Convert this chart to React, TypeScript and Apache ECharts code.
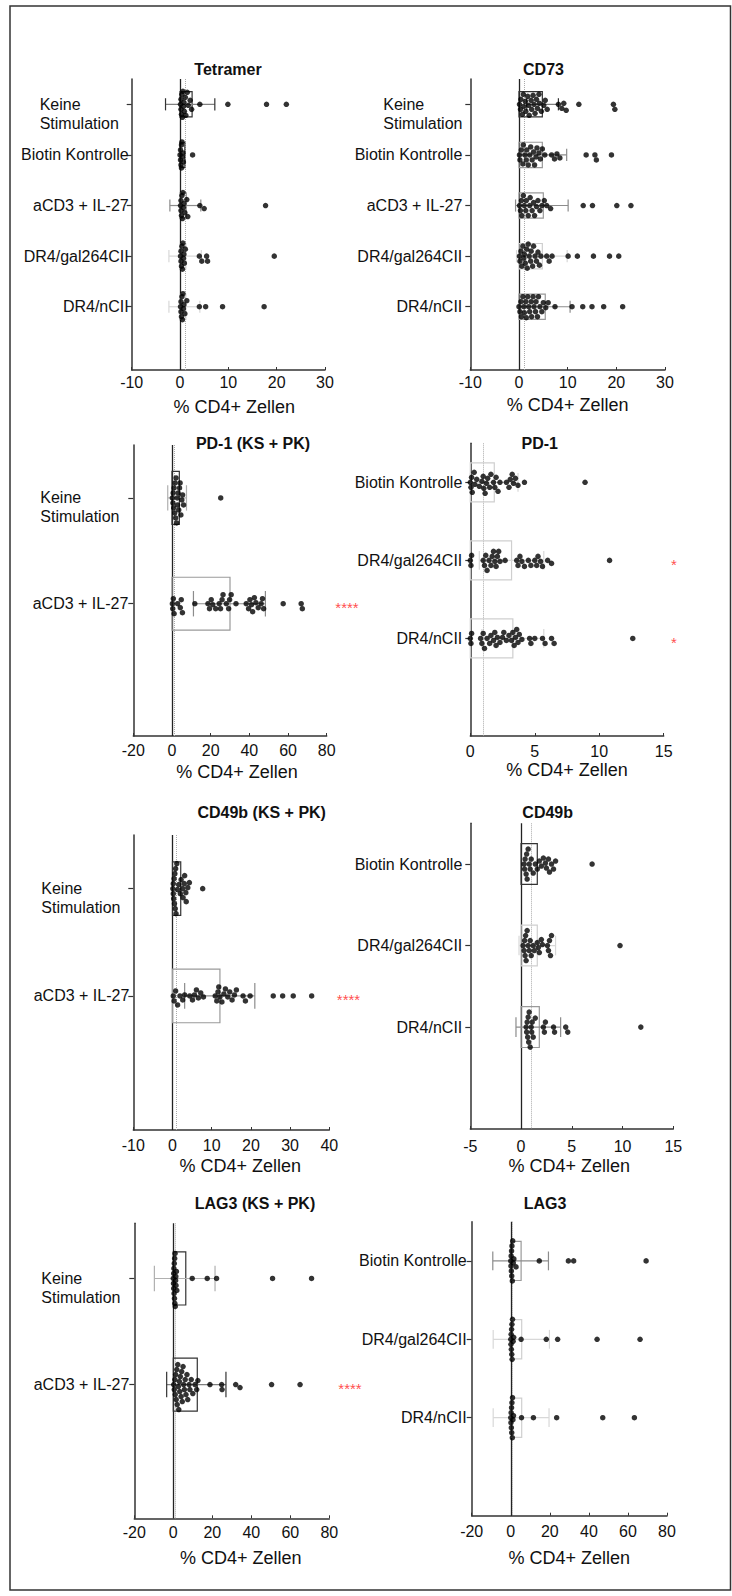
import React, { useEffect, useRef } from "react";
import * as echarts from "echarts";

const FONT = "'Liberation Sans', Arial, Helvetica, sans-serif";
const AXIS_NAME = "% CD4+ Zellen";

// ---------- Panel 1: Tetramer ----------
const tetTitle = "Tetramer";
const tetCats = ["Keine Stimulation", "Biotin Kontrolle", "aCD3 + IL-27", "DR4/gal264CII", "DR4/nCII"];
const tetMean = [2.5, 1.0, 1.3, 1.2, 1.2];
const tetLo = [-3.0, 1.0, -2.1, -2.3, -2.3];
const tetHi = [7.2, 1.0, 4.3, 4.4, 4.1];
const tetKeine = [0.1, 0.2, 0.2, 0.3, 0.4, 0.5, 0.6, 0.7, 0.8, 0.9, 1.1, 1.2, 1.5, 1.7, 2.1, 2.4, 4.1, 9.9, 17.9, 22.0];
const tetBiotin = [0.0, 0.1, 0.1, 0.2, 0.3, 0.3, 0.4, 0.5, 0.6, 0.7, 2.6];
const tetAcd3 = [0.1, 0.2, 0.2, 0.3, 0.4, 0.5, 0.6, 0.7, 0.8, 1.0, 1.4, 1.6, 4.1, 5.0, 17.7];
const tetGal = [0.1, 0.2, 0.2, 0.3, 0.4, 0.5, 0.6, 0.7, 0.8, 0.9, 1.1, 4.0, 4.5, 5.5, 5.7, 19.5];
const tetNc = [0.1, 0.2, 0.2, 0.3, 0.4, 0.5, 0.6, 0.7, 0.8, 1.0, 1.4, 4.0, 5.3, 8.8, 17.4];
const tetAxis = [-10, 30, 10];
const tetSig = ["", "", "", "", ""];

// ---------- Panel 2: CD73 ----------
const cdTitle = "CD73";
const cdCats = ["Keine Stimulation", "Biotin Kontrolle", "aCD3 + IL-27", "DR4/gal264CII", "DR4/nCII"];
const cdMean = [4.8, 4.8, 5.0, 4.8, 5.4];
const cdLo = [1.6, 0.0, -0.7, -0.5, 0.2];
const cdHi = [8.1, 9.8, 10.1, 9.9, 10.5];
const cdKeine = [0.1, 0.3, 0.4, 0.7, 0.9, 1.0, 1.3, 1.4, 1.8, 2.0, 2.1, 2.5, 2.6, 2.9, 3.1, 3.3, 3.6, 3.8, 4.1, 4.2, 4.6, 5.1, 5.4, 5.8, 8.1, 8.8, 9.2, 9.7, 12.3, 19.4, 19.7];
const cdBiotin = [0.1, 0.2, 0.5, 0.8, 0.9, 1.2, 1.5, 1.6, 1.9, 2.2, 2.4, 2.7, 3.0, 3.2, 3.5, 3.7, 4.1, 4.4, 4.8, 5.3, 6.7, 7.3, 7.8, 8.4, 13.8, 15.6, 15.9, 19.0];
const cdAcd3 = [0.1, 0.3, 0.5, 0.6, 0.9, 1.1, 1.4, 1.5, 1.9, 2.2, 2.3, 2.7, 3.0, 3.2, 3.6, 3.9, 4.3, 4.7, 5.2, 5.7, 6.5, 13.2, 15.1, 20.1, 23.0];
const cdGal = [0.1, 0.2, 0.4, 0.6, 0.8, 1.0, 1.1, 1.3, 1.6, 1.7, 1.9, 2.1, 2.4, 2.5, 2.8, 3.0, 3.3, 3.6, 3.9, 4.2, 4.5, 5.7, 6.2, 6.8, 10.1, 12.0, 15.3, 18.6, 20.5];
const cdNc = [0.0, 0.2, 0.4, 0.5, 0.8, 1.0, 1.1, 1.4, 1.5, 1.8, 2.0, 2.2, 2.5, 2.6, 2.9, 3.1, 3.4, 3.5, 3.8, 4.0, 4.3, 4.7, 5.0, 5.5, 6.0, 7.4, 10.9, 13.1, 15.0, 17.4, 21.3];
const cdAxis = [-10, 30, 10];
const cdSig = ["", "", "", "", ""];

// ---------- Panel 3: PD-1 (KS + PK) ----------
const pdksTitle = "PD-1 (KS + PK)";
const pdksCats = ["Keine Stimulation", "aCD3 + IL-27"];
const pdksMean = [3.8, 30.0];
const pdksLo = [-2.2, 11.1];
const pdksHi = [7.5, 48.3];
const pdksKeine = [0.2, 0.5, 0.6, 0.9, 1.1, 1.4, 1.6, 1.9, 2.1, 2.4, 2.7, 2.9, 3.2, 3.5, 3.9, 4.2, 4.6, 5.1, 5.5, 6.0, 25.2];
const pdksAcd3 = [0.2, 0.4, 0.7, 1.1, 2.9, 4.3, 4.8, 5.4, 11.8, 18.6, 19.4, 20.3, 21.1, 22.6, 24.4, 25.1, 25.9, 26.4, 28.1, 29.3, 29.8, 30.6, 33.1, 38.4, 39.6, 40.3, 41.1, 41.7, 42.6, 43.4, 44.6, 46.1, 46.8, 47.4, 57.5, 66.8, 67.4];
const pdksAxis = [-20, 80, 20];
const pdksSig = ["", "****"];
const pdksSigX = 90.5;

// ---------- Panel 4: PD-1 ----------
const pdTitle = "PD-1";
const pdCats = ["Biotin Kontrolle", "DR4/gal264CII", "DR4/nCII"];
const pdMean = [1.86, 3.2, 3.3];
const pdLo = [0.0, 0.7, 0.9];
const pdHi = [3.7, 5.7, 5.7];
const pdBiotin = [0.0, 0.05, 0.1, 0.15, 0.3, 0.35, 0.5, 0.7, 0.9, 1.0, 1.05, 1.15, 1.25, 1.35, 1.5, 1.6, 1.8, 1.9, 2.0, 2.15, 2.3, 2.8, 3.0, 3.1, 3.25, 3.35, 3.5, 3.7, 4.2, 8.9];
const pdGal = [0.0, 0.05, 0.1, 1.0, 1.1, 1.2, 1.3, 1.45, 1.6, 1.7, 1.8, 1.9, 2.0, 2.1, 2.2, 2.3, 2.7, 3.6, 3.7, 3.85, 4.0, 4.2, 4.5, 4.7, 5.0, 5.15, 5.25, 5.45, 5.6, 6.0, 6.3, 10.8];
const pdNc = [0.0, 0.05, 0.1, 0.8, 0.9, 1.0, 1.1, 1.3, 1.5, 1.6, 1.8, 1.9, 2.0, 2.1, 2.3, 2.5, 2.6, 2.8, 3.0, 3.2, 3.3, 3.4, 3.5, 3.6, 3.7, 3.8, 4.0, 4.6, 4.7, 5.0, 5.6, 5.8, 6.3, 6.5, 12.6];
const pdAxis = [0, 15, 5];
const pdSig = ["", "*", "*"];
const pdSigX = 15.8;

// ---------- Panel 5: CD49b (KS + PK) ----------
const cbksTitle = "CD49b (KS + PK)";
const cbksCats = ["Keine Stimulation", "aCD3 + IL-27"];
const cbksMean = [2.1, 12.1];
const cbksLo = [2.1, 3.1];
const cbksHi = [2.1, 21.0];
const cbksKeine = [0.1, 0.2, 0.2, 0.3, 0.4, 0.5, 0.6, 0.7, 0.8, 0.9, 1.1, 1.3, 1.6, 2.0, 2.2, 2.6, 2.7, 3.0, 3.1, 3.4, 3.5, 3.9, 4.3, 7.7];
const cbksAcd3 = [0.2, 0.4, 0.8, 1.3, 1.9, 2.6, 3.1, 4.4, 5.1, 5.6, 6.1, 6.6, 7.2, 7.9, 10.9, 11.3, 11.6, 11.8, 12.1, 12.6, 13.1, 13.5, 14.1, 14.6, 15.2, 15.8, 16.3, 18.0, 18.6, 19.8, 25.7, 28.1, 30.8, 35.5];
const cbksAxis = [-10, 40, 10];
const cbksSig = ["", "****"];
const cbksSigX = 44.9;

// ---------- Panel 6: CD49b ----------
const cbTitle = "CD49b";
const cbCats = ["Biotin Kontrolle", "DR4/gal264CII", "DR4/nCII"];
const cbMean = [1.6, 1.6, 1.8];
const cbLo = [1.6, -0.2, -0.5];
const cbHi = [1.6, 3.4, 3.9];
const cbBiotin = [0.3, 0.35, 0.4, 0.5, 0.55, 0.6, 0.7, 0.8, 0.9, 1.0, 1.2, 1.4, 1.6, 1.8, 2.0, 2.2, 2.4, 2.5, 2.7, 2.8, 3.0, 3.2, 3.4, 7.0];
const cbGal = [0.2, 0.3, 0.35, 0.4, 0.45, 0.5, 0.6, 0.7, 0.8, 0.9, 1.0, 1.2, 1.3, 1.6, 1.7, 1.8, 2.0, 2.1, 2.6, 2.7, 2.8, 2.9, 3.0, 9.75];
const cbNc = [0.5, 0.55, 0.6, 0.65, 0.7, 0.75, 0.8, 0.9, 1.0, 1.05, 1.1, 1.2, 1.4, 2.2, 2.3, 2.4, 3.2, 3.3, 4.4, 4.6, 11.8];
const cbAxis = [-5, 15, 5];
const cbSig = ["", "", ""];

// ---------- Panel 7: LAG3 (KS + PK) ----------
const lgksTitle = "LAG3 (KS + PK)";
const lgksCats = ["Keine Stimulation", "aCD3 + IL-27"];
const lgksMean = [6.4, 12.3];
const lgksLo = [-9.7, -3.4];
const lgksHi = [21.4, 27.0];
const lgksKeine = [0.0, 0.1, 0.2, 0.2, 0.3, 0.4, 0.5, 0.6, 0.7, 0.8, 0.9, 1.0, 1.2, 1.3, 1.4, 1.6, 1.8, 9.7, 17.4, 22.2, 50.9, 70.9];
const lgksAcd3 = [0.2, 0.5, 0.8, 1.0, 1.2, 1.5, 1.8, 2.0, 2.3, 2.6, 2.8, 3.1, 3.3, 3.6, 4.0, 4.3, 4.6, 5.0, 5.3, 5.7, 6.1, 6.5, 7.0, 7.4, 8.1, 8.5, 9.2, 10.0, 11.1, 12.0, 12.6, 18.8, 24.8, 25.0, 32.0, 34.2, 50.4, 65.0];
const lgksAxis = [-20, 80, 20];
const lgksSig = ["", "****"];
const lgksSigX = 90.6;

// ---------- Panel 8: LAG3 ----------
const lgTitle = "LAG3";
const lgCats = ["Biotin Kontrolle", "DR4/gal264CII", "DR4/nCII"];
const lgMean = [5.3, 5.6, 5.6];
const lgLo = [-9.2, -9.0, -9.0];
const lgHi = [19.3, 19.8, 19.6];
const lgBiotin = [0.0, 0.1, 0.2, 0.3, 0.4, 0.5, 0.6, 0.8, 1.0, 1.3, 1.6, 2.7, 14.6, 29.5, 32.2, 69.3];
const lgGal = [0.0, 0.1, 0.2, 0.3, 0.4, 0.5, 0.6, 0.7, 0.9, 1.2, 1.5, 5.3, 18.2, 24.0, 44.2, 66.2];
const lgNc = [0.0, 0.1, 0.2, 0.3, 0.4, 0.5, 0.6, 0.8, 0.9, 1.1, 1.4, 5.5, 11.6, 23.5, 47.1, 63.3];
const lgAxis = [-20, 80, 20];
const lgSig = ["", "", ""];

// ---------- styles (kept apart from the data) ----------
const TONES: Record<string, { bar: string; err: string; cap: string }> = {
  d: { bar: "#333333", err: "#808080", cap: "#333333" },
  dl: { bar: "#333333", err: "#b0b0b0", cap: "#b0b0b0" },
  m: { bar: "#9a9a9a", err: "#8c8c8c", cap: "#8c8c8c" },
  l: { bar: "#cfcfcf", err: "#d8d8d8", cap: "#d8d8d8" },
};
const tetTone = ["d", "d", "m", "l", "l"];
const cdTone = ["d", "m", "m", "l", "m"];
const pdksTone = ["dl", "m"];
const pdTone = ["l", "l", "l"];
const cbksTone = ["d", "m"];
const cbTone = ["d", "l", "m"];
const lgksTone = ["dl", "d"];
const lgTone = ["m", "l", "l"];

type Panel = {
  title: string; cats: string[]; mean: number[]; lo: number[]; hi: number[];
  dots: number[][]; axis: number[]; sig: string[]; sigX: number; tone: string[];
};

const PANELS: Panel[] = [
  { title: tetTitle, cats: tetCats, mean: tetMean, lo: tetLo, hi: tetHi, dots: [tetKeine, tetBiotin, tetAcd3, tetGal, tetNc], axis: tetAxis, sig: tetSig, sigX: 0, tone: tetTone },
  { title: cdTitle, cats: cdCats, mean: cdMean, lo: cdLo, hi: cdHi, dots: [cdKeine, cdBiotin, cdAcd3, cdGal, cdNc], axis: cdAxis, sig: cdSig, sigX: 0, tone: cdTone },
  { title: pdksTitle, cats: pdksCats, mean: pdksMean, lo: pdksLo, hi: pdksHi, dots: [pdksKeine, pdksAcd3], axis: pdksAxis, sig: pdksSig, sigX: pdksSigX, tone: pdksTone },
  { title: pdTitle, cats: pdCats, mean: pdMean, lo: pdLo, hi: pdHi, dots: [pdBiotin, pdGal, pdNc], axis: pdAxis, sig: pdSig, sigX: pdSigX, tone: pdTone },
  { title: cbksTitle, cats: cbksCats, mean: cbksMean, lo: cbksLo, hi: cbksHi, dots: [cbksKeine, cbksAcd3], axis: cbksAxis, sig: cbksSig, sigX: cbksSigX, tone: cbksTone },
  { title: cbTitle, cats: cbCats, mean: cbMean, lo: cbLo, hi: cbHi, dots: [cbBiotin, cbGal, cbNc], axis: cbAxis, sig: cbSig, sigX: 0, tone: cbTone },
  { title: lgksTitle, cats: lgksCats, mean: lgksMean, lo: lgksLo, hi: lgksHi, dots: [lgksKeine, lgksAcd3], axis: lgksAxis, sig: lgksSig, sigX: lgksSigX, tone: lgksTone },
  { title: lgTitle, cats: lgCats, mean: lgMean, lo: lgLo, hi: lgHi, dots: [lgBiotin, lgGal, lgNc], axis: lgAxis, sig: lgSig, sigX: 0, tone: lgTone },
];

// ---------- layout (pixels) ----------
const LAYOUT = [
  { left: 131.7, top: 79, width: 193.3, height: 291, ymin: -0.5, ymax: 5.25, lm: 3, kw: 89, xm: 4, ng: 27.5, np: 12, tx: 228, ty: 69, zero: true },
  { left: 470.3, top: 79, width: 194.7, height: 291, ymin: -0.5, ymax: 5.25, lm: 8, kw: 79, xm: 4, ng: 26, np: 0, tx: 543.5, ty: 69, zero: true },
  { left: 133.3, top: 445, width: 193.4, height: 291, ymin: -0.5, ymax: 2.25, lm: 5, kw: 88, xm: 6, ng: 26.5, np: 14, tx: 253, ty: 443, zero: true },
  { left: 470.3, top: 443.3, width: 193.4, height: 292.7, ymin: -0.5, ymax: 3.25, lm: 8, kw: 0, xm: 7.5, ng: 25, np: 0, tx: 539.7, ty: 443, zero: false },
  { left: 133.3, top: 835, width: 196, height: 295, ymin: -0.5, ymax: 2.25, lm: 4, kw: 88, xm: 7, ng: 26.5, np: 18, tx: 261.7, ty: 812.3, zero: true },
  { left: 470.3, top: 823.3, width: 203, height: 305.7, ymin: -0.5, ymax: 3.25, lm: 8, kw: 0, xm: 9.5, ng: 27.5, np: -5, tx: 547.7, ty: 812.3, zero: true },
  { left: 134.3, top: 1223.3, width: 195, height: 295, ymin: -0.52, ymax: 2.26, lm: 5, kw: 88, xm: 6.5, ng: 31, np: 18, tx: 255, ty: 1203.3, zero: true },
  { left: 471.7, top: 1221.7, width: 195.3, height: 294, ymin: -0.5, ymax: 3.25, lm: 5, kw: 0, xm: 8, ng: 33.5, np: 0, tx: 545, ty: 1203.3, zero: true },
];

const DOT = 5.5;

// beeswarm layout: returns [value, pixel offset]
function swarm(vals: number[], kx: number, maxOff: number, d: number): [number, number][] {
  const s = [...vals].sort((a, b) => a - b);
  const placed: [number, number][] = [];
  const res: [number, number][] = [];
  const lim = Math.floor(maxOff);
  for (const v of s) {
    const px = v * kx;
    let chosen = NaN;
    let best = 0;
    let bestD = -1;
    for (let k = 0; k <= 2 * lim; k++) {
      const o = k === 0 ? 0 : (k % 2 ? 1 : -1) * Math.ceil(k / 2);
      let md = Infinity;
      for (const q of placed) {
        const dx = px - q[0];
        const dy = o - q[1];
        const dd = Math.sqrt(dx * dx + dy * dy);
        if (dd < md) md = dd;
      }
      if (md >= d) { chosen = o; break; }
      if (md > bestD) { bestD = md; best = o; }
    }
    const oy = isNaN(chosen) ? best : chosen;
    placed.push([px, oy]);
    res.push([v, oy]);
  }
  return res;
}

function buildOption() {
  const grid: any[] = [];
  const xAxis: any[] = [];
  const yAxis: any[] = [];
  const series: any[] = [];
  const graphic: any[] = [
    { type: "rect", silent: true, shape: { x: 10, y: 6, width: 720.5, height: 1584 }, style: { fill: "none", stroke: "#333", lineWidth: 1.5 } },
  ];

  PANELS.forEach((P, i) => {
    const L = LAYOUT[i];
    const [xmin, xmax, step] = P.axis;
    const idxs = P.cats.map((_, j) => j);
    const kx = L.width / (xmax - xmin);
    const ky = L.height / (L.ymax - L.ymin);

    grid.push({ left: L.left, top: L.top, width: L.width, height: L.height, containLabel: false, outerBoundsMode: "none" });

    xAxis.push({
      type: "value", gridIndex: i, min: xmin, max: xmax, interval: step,
      axisLine: { show: true, onZero: false, lineStyle: { color: "#333", width: 1.5 } },
      axisTick: { show: true, inside: true, length: 3, lineStyle: { color: "#333", width: 1 } },
      axisLabel: { margin: L.xm, fontSize: 16, fontFamily: FONT, color: "#111" },
      splitLine: { show: false },
      name: AXIS_NAME, nameLocation: "middle", nameGap: L.ng,
      nameTextStyle: { fontSize: 18, fontFamily: FONT, color: "#111", padding: L.np >= 0 ? [0, 0, 0, L.np] : [0, -L.np, 0, 0] },
    });

    const kw = L.kw;
    yAxis.push({
      type: "value", gridIndex: i, inverse: true, min: L.ymin, max: L.ymax,
      axisLine: { show: true, onZero: false, lineStyle: { color: "#333", width: 1.5 } },
      axisTick: { show: true, customValues: idxs, length: 5, lineStyle: { color: "#333", width: 1.2 } },
      axisLabel: {
        show: true, customValues: idxs, margin: L.lm, fontSize: 16, fontFamily: FONT, color: "#111", lineHeight: 19,
        formatter: (v: number) => {
          const name = P.cats[Math.round(v)] ?? "";
          if (name === "Keine Stimulation") return "{e| }\n{k|Keine}\n{k|Stimulation}";
          return name;
        },
        rich: {
          e: { fontSize: 16, lineHeight: 19, fontFamily: FONT },
          k: { fontSize: 16, lineHeight: 19, fontFamily: FONT, color: "#111", align: "left", width: kw || undefined },
        },
      },
      splitLine: { show: false },
    });

    // bars + error bars
    series.push({
      type: "custom", xAxisIndex: i, yAxisIndex: i, z: 2, silent: true,
      data: P.mean.map((m, j) => [m, j, P.lo[j], P.hi[j]]),
      renderItem: (params: any, api: any) => {
        const m = api.value(0);
        const j = api.value(1);
        const lo = api.value(2);
        const hi = api.value(3);
        const tone = TONES[P.tone[params.dataIndex]] || TONES.m;
        const c0 = api.coord([0, j]);
        const cm = api.coord([m, j]);
        const h = Math.abs(api.size([0, 0.5])[1]);
        const cap = Math.abs(api.size([0, 0.24])[1]);
        const children: any[] = [
          {
            type: "rect",
            shape: { x: Math.min(c0[0], cm[0]), y: c0[1] - h / 2, width: Math.abs(cm[0] - c0[0]), height: h },
            style: { fill: "rgba(255,255,255,0)", stroke: tone.bar, lineWidth: 1.2 },
          },
        ];
        if (hi > lo) {
          const a = api.coord([lo, j]);
          const b = api.coord([hi, j]);
          children.push({ type: "line", shape: { x1: a[0], y1: a[1], x2: b[0], y2: b[1] }, style: { stroke: tone.err, lineWidth: 1.2 } });
          children.push({ type: "line", shape: { x1: a[0], y1: a[1] - cap / 2, x2: a[0], y2: a[1] + cap / 2 }, style: { stroke: tone.cap, lineWidth: 1.2 } });
          children.push({ type: "line", shape: { x1: b[0], y1: b[1] - cap / 2, x2: b[0], y2: b[1] + cap / 2 }, style: { stroke: tone.cap, lineWidth: 1.2 } });
        }
        return { type: "group", children };
      },
    });

    // dots (beeswarm)
    const pts: number[][] = [];
    P.dots.forEach((vals, j) => {
      swarm(vals, kx, 0.27 * ky, 4.8).forEach(([v, oy]) => pts.push([v, j + oy / ky]));
    });
    const mlData: any[] = [];
    if (L.zero) mlData.push({ xAxis: 0, lineStyle: { color: "#222", width: 1.3, type: "solid" } });
    mlData.push({ xAxis: 1, lineStyle: { color: "#aaa", width: 1, type: "dotted" } });
    series.push({
      type: "scatter", xAxisIndex: i, yAxisIndex: i, z: 3, silent: true, symbolSize: DOT,
      itemStyle: { color: "#000" }, data: pts,
      markLine: { silent: true, symbol: ["none", "none"], label: { show: false }, data: mlData, z: 1 },
    });

    // significance stars
    const sigData = P.sig
      .map((s, j) => (s ? { value: [P.sigX, j], name: s } : null))
      .filter(Boolean);
    if (sigData.length) {
      series.push({
        type: "scatter", xAxisIndex: i, yAxisIndex: i, z: 4, silent: true, symbolSize: 1, clip: false,
        itemStyle: { color: "rgba(0,0,0,0)" }, data: sigData,
        label: { show: true, position: "inside", formatter: "{b}", color: "#ff2020", fontSize: 15, fontFamily: FONT, offset: [0, 4] },
      });
    }

    graphic.push({
      type: "text", silent: true, x: L.tx, y: L.ty,
      style: {
        text: P.title, fontSize: 16, fontWeight: "bold", fontFamily: FONT, fill: "#111",
        align: "center", verticalAlign: "middle", textAlign: "center", textVerticalAlign: "middle",
      },
    });
  });

  return { animation: false, backgroundColor: "#fff", grid, xAxis, yAxis, series, graphic };
}

export default function App() {
  const ref = useRef<HTMLDivElement>(null);
  useEffect(() => {
    document.body.style.margin = "0";
    if (!ref.current) return;
    const chart = echarts.init(ref.current, undefined, { renderer: "svg" });
    chart.setOption(buildOption() as any);
    return () => chart.dispose();
  }, []);
  return <div ref={ref} style={{ width: 732, height: 1596 }} />;
}
